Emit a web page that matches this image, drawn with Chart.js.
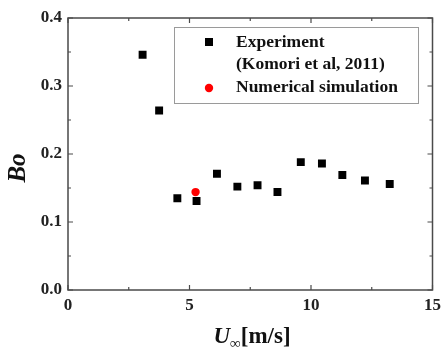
<!DOCTYPE html>
<html>
<head>
<meta charset="utf-8">
<script src="https://cdn.jsdelivr.net/npm/chart.js@4"></script>
<style>
  html, body { margin: 0; padding: 0; background: #fff; }
  #wrap { width: 446px; height: 349px; }
</style>
</head>
<body>
<div id="wrap"><canvas id="c" width="446" height="349"></canvas></div>
<script>
// Data
const expU  = [3.07, 3.75, 4.50, 5.29, 6.13, 6.97, 7.80, 8.62, 9.58, 10.45, 11.29, 12.22, 13.24];
const expBo = [0.346, 0.264, 0.135, 0.131, 0.171, 0.152, 0.154, 0.144, 0.188, 0.186, 0.169, 0.161, 0.156];
const simU  = [5.25];
const simBo = [0.144];
const xTicks = [0, 5, 10, 15];
const yTicks = [0.0, 0.1, 0.2, 0.3, 0.4];
const legendLabels = [["Experiment", "(Komori et al, 2011)"], ["Numerical simulation"]];

const SERIF = '"Liberation Serif", "Times New Roman", serif';
const AXIS_COLOR = '#4a4a4a';

const framePlugin = {
  id: 'frame',
  afterDraw(chart) {
    const { ctx, chartArea: a, scales } = chart;
    const xs = scales.x, ys = scales.y;
    ctx.save();
    ctx.strokeStyle = AXIS_COLOR;
    ctx.lineWidth = 1.5;
    ctx.strokeRect(a.left, a.top, a.right - a.left, a.bottom - a.top);
    ctx.lineWidth = 1.2;
    ctx.beginPath();
    // x ticks (major + minor), inward, bottom and top
    for (let v = 0; v <= 15.001; v += 2.5) {
      const px = xs.getPixelForValue(v);
      const len = (Math.abs(v % 5) < 1e-6) ? 5 : 3;
      ctx.moveTo(px, a.bottom); ctx.lineTo(px, a.bottom - len);
      ctx.moveTo(px, a.top); ctx.lineTo(px, a.top + len);
    }
    for (let i = 0; i <= 8; i++) {
      const v = i * 0.05;
      const py = ys.getPixelForValue(v);
      const len = (i % 2 === 0) ? 5 : 3;
      ctx.moveTo(a.left, py); ctx.lineTo(a.left + len, py);
      ctx.moveTo(a.right, py); ctx.lineTo(a.right - len, py);
    }
    ctx.stroke();

    // axis titles
    ctx.fillStyle = '#111';
    // y title "Bo"
    ctx.save();
    ctx.translate(19, 168);
    ctx.rotate(-Math.PI / 2);
    ctx.font = 'italic bold 25px ' + SERIF;
    ctx.textAlign = 'center';
    ctx.textBaseline = 'middle';
    ctx.fillText('Bo', 0, 0);
    ctx.restore();
    // x title "U∞[m/s]"
    const base = 343;
    ctx.textBaseline = 'alphabetic';
    ctx.textAlign = 'left';
    ctx.font = 'italic bold 23px ' + SERIF;
    const wU = ctx.measureText('U').width;
    ctx.font = 'bold 15px ' + SERIF;
    const wInf = ctx.measureText('\u221E').width;
    ctx.font = 'bold 23px ' + SERIF;
    const wRest = ctx.measureText('[m/s]').width;
    let x0 = 252 - (wU + wInf + wRest) / 2;
    ctx.font = 'italic bold 23px ' + SERIF;
    ctx.fillText('U', x0, base);
    x0 += wU;
    ctx.font = 'bold 15px ' + SERIF;
    ctx.fillText('\u221E', x0, base + 5);
    x0 += wInf;
    ctx.font = 'bold 23px ' + SERIF;
    ctx.fillText('[m/s]', x0, base);

    // legend
    const lx = 174, ly = 27, lw = 244, lh = 76;
    ctx.fillStyle = '#fff';
    ctx.fillRect(lx, ly, lw, lh);
    ctx.strokeStyle = '#9a9a9a';
    ctx.lineWidth = 1;
    ctx.strokeRect(lx + 0.5, ly + 0.5, lw, lh);
    ctx.font = 'bold 17.5px ' + SERIF;
    ctx.textBaseline = 'middle';
    ctx.fillStyle = '#111';
    const ds = chart.data.datasets;
    // entry 1
    ctx.fillStyle = ds[0].backgroundColor;
    ctx.fillRect(209 - 4, 42 - 4, 8, 8);
    ctx.fillStyle = '#111';
    ctx.fillText(legendLabels[0][0], 236, 42);
    ctx.fillText(legendLabels[0][1], 236, 64);
    // entry 2
    ctx.fillStyle = ds[1].backgroundColor;
    ctx.beginPath();
    ctx.arc(209, 88, 4.2, 0, Math.PI * 2);
    ctx.fill();
    ctx.fillStyle = '#111';
    ctx.fillText(legendLabels[1][0], 236, 87);
    ctx.restore();
  }
};

new Chart(document.getElementById('c'), {
  type: 'scatter',
  data: {
    datasets: [
      {
        label: legendLabels[0].join(' '),
        data: expU.map((u, i) => ({ x: u, y: expBo[i] })),
        pointStyle: 'rect',
        pointRadius: 5.6,
        pointBorderWidth: 0,
        backgroundColor: '#000',
        borderColor: '#000'
      },
      {
        label: legendLabels[1][0],
        data: simU.map((u, i) => ({ x: u, y: simBo[i] })),
        pointStyle: 'circle',
        pointRadius: 4.2,
        pointBorderWidth: 0,
        backgroundColor: '#ff0000',
        borderColor: '#ff0000'
      }
    ]
  },
  options: {
    responsive: false,
    animation: false,
    devicePixelRatio: 1,
    layout: { padding: { left: 0, right: 10, top: 18, bottom: 0 } },
    plugins: { legend: { display: false }, tooltip: { enabled: false }, title: { display: false } },
    scales: {
      x: {
        type: 'linear', min: 0, max: 15,
        afterBuildTicks(s) { s.ticks = xTicks.map(v => ({ value: v })); },
        afterFit(s) { s.height = 59; },
        grid: { display: false, drawTicks: false },
        border: { display: false },
        ticks: { color: '#222', padding: 5, font: { family: SERIF, size: 17, weight: 'bold' }, maxRotation: 0 }
      },
      y: {
        type: 'linear', min: 0, max: 0.4,
        afterBuildTicks(s) { s.ticks = yTicks.map(v => ({ value: v })); },
        afterFit(s) { s.width = 68; },
        grid: { display: false, drawTicks: false },
        border: { display: false },
        ticks: { color: '#222', padding: 6, font: { family: SERIF, size: 17, weight: 'bold' },
                 callback: v => Number(v).toFixed(1) }
      }
    }
  },
  plugins: [framePlugin]
});
</script>
</body>
</html>
